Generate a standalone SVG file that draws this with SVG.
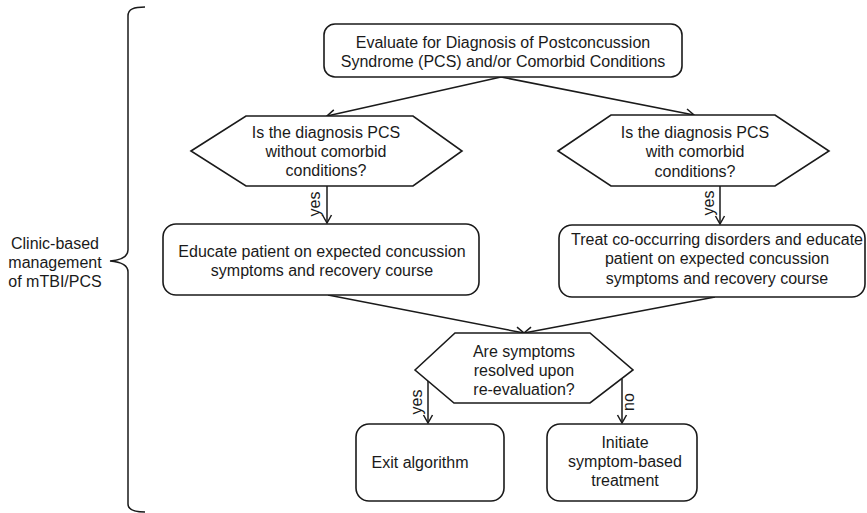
<svg xmlns="http://www.w3.org/2000/svg" width="867" height="513" viewBox="0 0 867 513">
<style>
text{font-family:"Liberation Sans",Arial,sans-serif;font-size:16px;fill:#1a1a1a;text-anchor:middle}
.box{fill:#fff;stroke:#1a1a1a;stroke-width:1.6}
.ln{fill:none;stroke:#1a1a1a;stroke-width:1.5}
</style>
<defs>
<marker id="arr" viewBox="-10 -6 12 12" refX="0" refY="0" markerWidth="12" markerHeight="12" markerUnits="userSpaceOnUse" orient="auto">
<path d="M-8,-4.5 L0,0 L-8,4.5" fill="none" stroke="#1a1a1a" stroke-width="1.5"/>
</marker>
</defs>
<rect width="867" height="513" fill="#fff"/>
<g id="bracket">
<path class="ln" d="M145,7 C134,7 128,9 128,16 L128,250 C128,257 122,260 110,261 C122,262 128,265 128,272 L128,504 C128,510 134,512 145,512"/>
<text x="55" y="249">Clinic-based</text>
<text x="55" y="268">management</text>
<text x="55" y="287">of mTBI/PCS</text>
</g>
<g id="connectors">
<line class="ln" x1="501" y1="77" x2="327" y2="116" marker-end="url(#arr)"/>
<line class="ln" x1="501" y1="77" x2="694" y2="115" marker-end="url(#arr)"/>
<line class="ln" x1="327" y1="186" x2="327" y2="223" marker-end="url(#arr)"/>
<line class="ln" x1="720" y1="186" x2="720" y2="224" marker-end="url(#arr)"/>
<line class="ln" x1="328" y1="295" x2="524" y2="333" marker-end="url(#arr)"/>
<line class="ln" x1="715" y1="297" x2="524" y2="333" marker-end="url(#arr)"/>
<line class="ln" x1="428" y1="381" x2="428" y2="423" marker-end="url(#arr)"/>
<line class="ln" x1="622" y1="379" x2="622" y2="423" marker-end="url(#arr)"/>
<text transform="translate(320,204) rotate(-90)">yes</text>
<text transform="translate(714,203) rotate(-90)">yes</text>
<text transform="translate(422,402) rotate(-90)">yes</text>
<text transform="translate(634,402) rotate(-90)">no</text>
</g>
<g id="n_evaluate">
<rect class="box" x="324" y="24" width="358" height="53" rx="11"/>
<text x="503" y="48">Evaluate for Diagnosis of Postconcussion</text>
<text x="503" y="67">Syndrome (PCS) and/or Comorbid Conditions</text>
</g>
<g id="d_without">
<polygon class="box" points="191,151 246,116 413,116 462,151 413,186 246,186"/>
<text x="326" y="138">Is the diagnosis PCS</text>
<text x="326" y="157">without comorbid</text>
<text x="326" y="176">conditions?</text>
</g>
<g id="d_with">
<polygon class="box" points="558,151 611,115 775,115 829,151 775,186 611,186"/>
<text x="695" y="138">Is the diagnosis PCS</text>
<text x="695" y="157">with comorbid</text>
<text x="695" y="177">conditions?</text>
</g>
<g id="n_educate">
<rect class="box" x="163" y="224" width="316" height="71" rx="13"/>
<text x="322" y="257">Educate patient on expected concussion</text>
<text x="322" y="276">symptoms and recovery course</text>
</g>
<g id="n_treat">
<rect class="box" x="559" y="225" width="306" height="72" rx="13"/>
<text x="717" y="245">Treat co-occurring disorders and educate</text>
<text x="717" y="264">patient on expected concussion</text>
<text x="717" y="284">symptoms and recovery course</text>
</g>
<g id="d_resolved">
<polygon class="box" points="415,370 455,333 590,333 633,370 590,403 454,403"/>
<text x="524" y="357">Are symptoms</text>
<text x="524" y="376">resolved upon</text>
<text x="524" y="395">re-evaluation?</text>
</g>
<g id="n_exit">
<rect class="box" x="356" y="424" width="148" height="77" rx="13"/>
<text x="420" y="468">Exit algorithm</text>
</g>
<g id="n_initiate">
<rect class="box" x="547" y="424" width="150" height="77" rx="13"/>
<text x="625" y="448">Initiate</text>
<text x="625" y="467">symptom-based</text>
<text x="625" y="486">treatment</text>
</g>
</svg>
